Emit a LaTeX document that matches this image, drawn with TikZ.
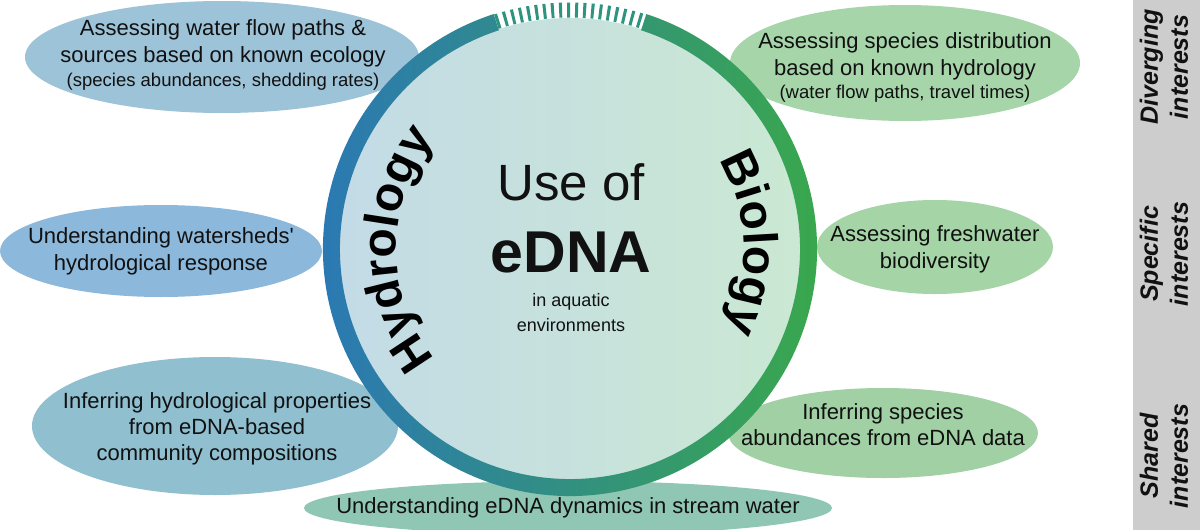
\documentclass[tikz,border=0pt]{standalone}
\usepackage{fontspec}
\setmainfont{Liberation Sans}
\newfontfamily\plainfont{Liberation Sans}
\usetikzlibrary{shapes.geometric,decorations.text}
\definecolor{ringblue}{HTML}{2A76B9}
\definecolor{ringmid}{HTML}{2A8A86}
\definecolor{ringgreen}{HTML}{3AAA47}
\definecolor{hatchc}{HTML}{2E9482}
\definecolor{inblue}{HTML}{C3DBE6}
\definecolor{ingreen}{HTML}{CAE8D3}
\definecolor{eA}{HTML}{9DC3D8}
\definecolor{eB}{HTML}{8CB8DB}
\definecolor{eC}{HTML}{90BFCF}
\definecolor{eD}{HTML}{8FC6B4}
\definecolor{eE}{HTML}{A6D5AA}
\definecolor{eF}{HTML}{A5D5A7}
\definecolor{eG}{HTML}{A0D0A3}
\definecolor{barc}{HTML}{CDCDCD}
\definecolor{inkc}{HTML}{111111}
\tikzset{
  bubble/.style={ellipse, inner sep=0pt, draw=none},
  txt/.style={align=center, text=inkc, font=\fontsize{22}{27}\selectfont, inner sep=0pt},
  sidetxt/.style={rotate=90, align=center, text=inkc, font=\fontsize{25}{30}\selectfont\bfseries\itshape, inner sep=0pt},
}
\begin{document}
\begin{tikzpicture}[x=1pt,y=1pt]
\useasboundingbox (0,0) rectangle (1200,-530);
\clip (0,0) rectangle (1200,-530);
\fill[white] (0,0) rectangle (1200,-530);
% side bar
\fill[barc] (1133,0) rectangle (1200,-530);
\node[sidetxt] (s1) at (1164,-67) {Diverging\\interests};
\node[sidetxt] (s2) at (1164,-254) {Specific\\interests};
\node[sidetxt] (s3) at (1164,-456) {Shared\\interests};
% ellipses
\node[bubble, fill=eA, minimum width=394, minimum height=112] (e1) at (222,-57) {};
\node[bubble, fill=eB, minimum width=322, minimum height=92] (e2) at (161,-251) {};
\node[bubble, fill=eC, minimum width=366, minimum height=138] (e3) at (215,-426) {};
\node[bubble, fill=eD, minimum width=528, minimum height=54] (e4) at (568,-508) {};
\node[bubble, fill=eE, minimum width=350, minimum height=116] (e5) at (905,-63) {};
\node[bubble, fill=eF, minimum width=236, minimum height=94] (e6) at (935,-247) {};
\node[bubble, fill=eG, minimum width=310, minimum height=90] (e7) at (883,-433) {};
% circle
\begin{scope}[shift={(570,-249)}]
  \shade[left color=inblue, right color=ingreen] (0,0) circle (231);
  \shade[left color=ringblue, middle color=ringmid, right color=ringgreen]
    (108:247) arc[start angle=108, end angle=432, radius=247]
    -- (72:230) arc[start angle=72, end angle=-252, radius=230] -- cycle;
  \draw[hatchc, line width=15, dash pattern=on 3 off 5, dash phase=-3]
    (72:239) arc[start angle=72, end angle=108, radius=239];
  \path[decorate, decoration={text along path,
      text={|\fontsize{48}{56}\selectfont\bfseries|Hydrology}, text align=center}]
    (235:174) arc[start angle=235, end angle=125, radius=174];
  \path[decorate, decoration={text along path,
      text={|\fontsize{48}{56}\selectfont\bfseries|Biology}, text align=center}]
    (57:174) arc[start angle=57, end angle=-53, radius=174];
\end{scope}
% centre text
\node[anchor=base, inner sep=0pt, text=inkc, font=\fontsize{51}{60}\selectfont] (use) at (571,-200) {Use of};
\node[anchor=base, inner sep=0pt, text=inkc, font=\fontsize{59}{66}\selectfont\bfseries] (edna) at (571,-272) {eDNA};
\node[align=center, inner sep=0pt, text=inkc, font=\fontsize{18}{25}\selectfont] (aq) at (571,-313) {in aquatic\\environments};
% ellipse texts
\node[txt] (t1) at (223,-55) {Assessing water flow paths \&\\sources based on known ecology\\[-3pt]{\fontsize{18.5}{22}\selectfont (species abundances, shedding rates)}};
\node[txt] (t2) at (161,-251) {Understanding watersheds{\plainfont'}\\hydrological response};
\node[txt, font=\fontsize{22}{26}\selectfont] (t3) at (217,-429) {Inferring hydrological properties\\from eDNA-based\\community compositions};
\node[txt] (t4) at (568,-508) {Understanding eDNA dynamics in stream water};
\node[txt] (t5) at (905,-67) {Assessing species distribution\\based on known hydrology\\[-4pt]{\fontsize{18.5}{22}\selectfont (water flow paths, travel times)}};
\node[txt] (t6) at (935,-249) {Assessing freshwater\\biodiversity};
\node[txt, font=\fontsize{22}{26}\selectfont] (t7) at (883,-425) {Inferring species\\abundances from eDNA data};
\end{tikzpicture}
\end{document}
